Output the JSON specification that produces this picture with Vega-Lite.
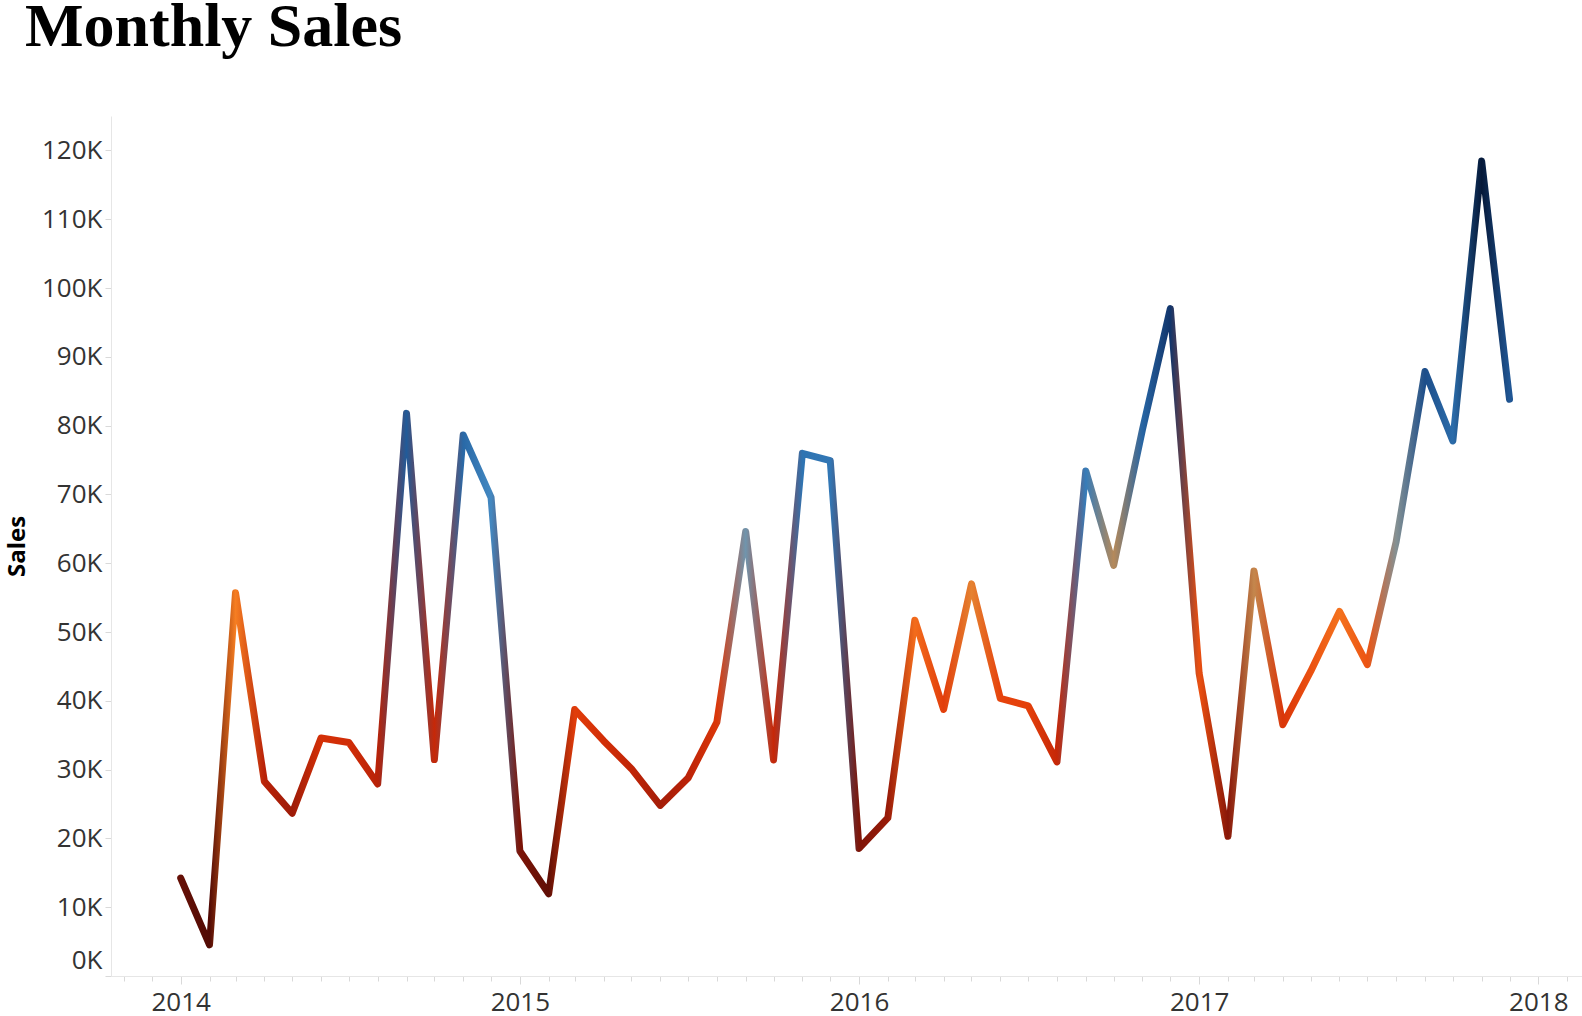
{
  "$schema": "https://vega.github.io/schema/vega-lite/v6.json",
  "width": 1471,
  "height": 860,
  "autosize": {"type": "none"},
  "padding": {"left": 111, "top": 116, "right": 0, "bottom": 40},
  "background": "white",
  "config": {"view": {"stroke": null}},
  "title": {
    "text": "Monthly Sales",
    "anchor": "start",
    "frame": "group",
    "font": "Liberation Serif",
    "fontSize": 62,
    "fontWeight": "bold",
    "color": "#000000",
    "dx": -86,
    "offset": 57
  },
  "data": {
    "values": [
      {"month": "2014-01-01", "sales": 14237},
      {"month": "2014-02-01", "sales": 4520},
      {"month": "2014-03-01", "sales": 55691},
      {"month": "2014-04-01", "sales": 28295},
      {"month": "2014-05-01", "sales": 23648},
      {"month": "2014-06-01", "sales": 34595},
      {"month": "2014-07-01", "sales": 33946},
      {"month": "2014-08-01", "sales": 27909},
      {"month": "2014-09-01", "sales": 81777},
      {"month": "2014-10-01", "sales": 31453},
      {"month": "2014-11-01", "sales": 78629},
      {"month": "2014-12-01", "sales": 69546},
      {"month": "2015-01-01", "sales": 18174},
      {"month": "2015-02-01", "sales": 11951},
      {"month": "2015-03-01", "sales": 38726},
      {"month": "2015-04-01", "sales": 34195},
      {"month": "2015-05-01", "sales": 30132},
      {"month": "2015-06-01", "sales": 24797},
      {"month": "2015-07-01", "sales": 28765},
      {"month": "2015-08-01", "sales": 36898},
      {"month": "2015-09-01", "sales": 64596},
      {"month": "2015-10-01", "sales": 31405},
      {"month": "2015-11-01", "sales": 75973},
      {"month": "2015-12-01", "sales": 74920},
      {"month": "2016-01-01", "sales": 18542},
      {"month": "2016-02-01", "sales": 22979},
      {"month": "2016-03-01", "sales": 51716},
      {"month": "2016-04-01", "sales": 38750},
      {"month": "2016-05-01", "sales": 56988},
      {"month": "2016-06-01", "sales": 40345},
      {"month": "2016-07-01", "sales": 39262},
      {"month": "2016-08-01", "sales": 31115},
      {"month": "2016-09-01", "sales": 73410},
      {"month": "2016-10-01", "sales": 59688},
      {"month": "2016-11-01", "sales": 79412},
      {"month": "2016-12-01", "sales": 96999},
      {"month": "2017-01-01", "sales": 43971},
      {"month": "2017-02-01", "sales": 20301},
      {"month": "2017-03-01", "sales": 58872},
      {"month": "2017-04-01", "sales": 36522},
      {"month": "2017-05-01", "sales": 44261},
      {"month": "2017-06-01", "sales": 52982},
      {"month": "2017-07-01", "sales": 45264},
      {"month": "2017-08-01", "sales": 63121},
      {"month": "2017-09-01", "sales": 87867},
      {"month": "2017-10-01", "sales": 77777},
      {"month": "2017-11-01", "sales": 118448},
      {"month": "2017-12-01", "sales": 83829}
    ]
  },
  "mark": {
    "type": "line",
    "strokeWidth": 7,
    "strokeCap": "round",
    "strokeJoin": "round",
    "stroke": {
      "gradient": "linear",
      "x1": 0, "y1": 0, "x2": 1, "y2": 0,
      "stops": [
        {"offset": 0, "color": "#651006"},
        {"offset": 0.021678, "color": "#520a04"},
        {"offset": 0.041259, "color": "#f67e22"},
        {"offset": 0.062937, "color": "#b92208"},
        {"offset": 0.083916, "color": "#9d1b08"},
        {"offset": 0.105594, "color": "#d43007"},
        {"offset": 0.126573, "color": "#d12d07"},
        {"offset": 0.148252, "color": "#b82208"},
        {"offset": 0.16993, "color": "#215b99"},
        {"offset": 0.190909, "color": "#c72807"},
        {"offset": 0.212587, "color": "#2969a7"},
        {"offset": 0.233566, "color": "#4388c1"},
        {"offset": 0.255245, "color": "#7c1407"},
        {"offset": 0.276923, "color": "#600f06"},
        {"offset": 0.296503, "color": "#e13d0b"},
        {"offset": 0.318182, "color": "#d22e07"},
        {"offset": 0.339161, "color": "#c12507"},
        {"offset": 0.360839, "color": "#a41d08"},
        {"offset": 0.381818, "color": "#bc2308"},
        {"offset": 0.403497, "color": "#db3709"},
        {"offset": 0.425175, "color": "#7095ad"},
        {"offset": 0.446154, "color": "#c72707"},
        {"offset": 0.467832, "color": "#2f74b2"},
        {"offset": 0.488811, "color": "#3277b5"},
        {"offset": 0.51049, "color": "#7e1508"},
        {"offset": 0.532168, "color": "#991b08"},
        {"offset": 0.552448, "color": "#f36c1c"},
        {"offset": 0.574126, "color": "#e23e0b"},
        {"offset": 0.595105, "color": "#e58231"},
        {"offset": 0.616783, "color": "#e6430c"},
        {"offset": 0.637762, "color": "#e4400b"},
        {"offset": 0.659441, "color": "#c62707"},
        {"offset": 0.681119, "color": "#367cb9"},
        {"offset": 0.702098, "color": "#b5895a"},
        {"offset": 0.723776, "color": "#2765a3"},
        {"offset": 0.744755, "color": "#12356b"},
        {"offset": 0.766434, "color": "#eb5011"},
        {"offset": 0.788112, "color": "#881608"},
        {"offset": 0.807692, "color": "#c4874d"},
        {"offset": 0.829371, "color": "#da3609"},
        {"offset": 0.85035, "color": "#eb5111"},
        {"offset": 0.872028, "color": "#f4721e"},
        {"offset": 0.893007, "color": "#ec5413"},
        {"offset": 0.914685, "color": "#859193"},
        {"offset": 0.936364, "color": "#1d4e8a"},
        {"offset": 0.957343, "color": "#2b6caa"},
        {"offset": 0.979021, "color": "#051838"},
        {"offset": 1, "color": "#205694"}
      ]
    }
  },
  "encoding": {
    "x": {
      "field": "month",
      "type": "temporal",
      "scale": {"domain": [{"year": 2013, "month": 10, "date": 18}, {"year": 2018, "month": 2, "date": 17}]},
      "axis": {
        "title": null,
        "grid": false,
        "tickCount": {"interval": "month", "step": 1},
        "labelExpr": "month(datum.value) == 0 ? timeFormat(datum.value, '%Y') : ''",
        "tickSize": {"condition": {"test": "month(datum.value) == 0", "value": 8}, "value": 5},
        "tickColor": "#d9d9d9",
        "domainColor": "#e6e6e6",
        "labelFont": "Open Sans",
        "labelFontSize": 26,
        "labelColor": "#333333",
        "labelPadding": 5,
        "labelOverlap": false,
        "labelFlush": false
      }
    },
    "y": {
      "field": "sales",
      "type": "quantitative",
      "scale": {"domain": [0, 125000], "nice": false},
      "axis": {
        "title": "Sales",
        "titleFont": "Open Sans",
        "titleFontSize": 24,
        "titleFontWeight": "bold",
        "titleColor": "#000000",
        "titlePadding": 12,
        "grid": false,
        "values": [0, 10000, 20000, 30000, 40000, 50000, 60000, 70000, 80000, 90000, 100000, 110000, 120000],
        "labelExpr": "(datum.value / 1000) + 'K'",
        "labelFont": "Open Sans",
        "labelFontSize": 26,
        "labelColor": "#333333",
        "labelPadding": 3,
        "labelFlush": true,
        "labelFlushOffset": -3,
        "tickSize": 6,
        "tickColor": "#d9d9d9",
        "domainColor": "#e6e6e6"
      }
    }
  }
}
